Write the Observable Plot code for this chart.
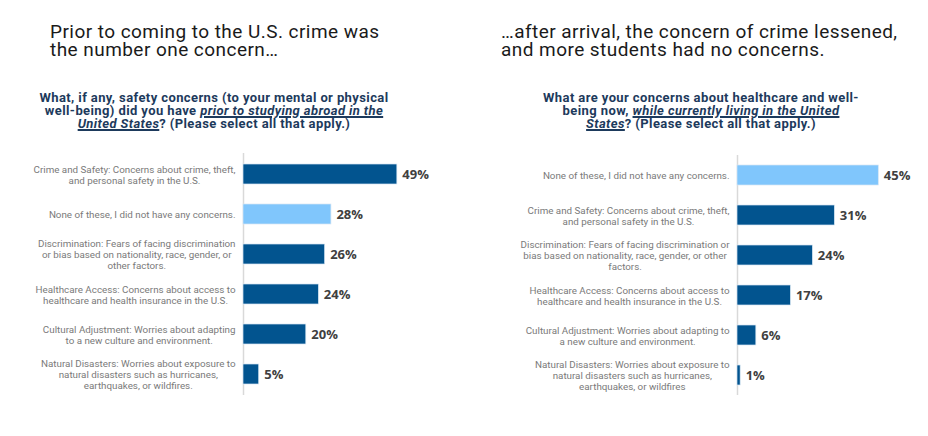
<!DOCTYPE html>
<html>
<head>
<meta charset="utf-8">
<script src="https://cdn.jsdelivr.net/npm/d3@7"></script>
<script src="https://cdn.jsdelivr.net/npm/@observablehq/plot@0.6"></script>
<style>
  html, body { margin: 0; padding: 0; background: #fff; }
  #wrap { position: relative; width: 928px; height: 436px; overflow: hidden; font-family: Roboto, "Open Sans", sans-serif; }
  .headline { position: absolute; height: 18px; font-size: 19px; line-height: 18px; letter-spacing: 0.45px; color: #1a1a1a; font-weight: 400; white-space: nowrap; }
  .sub { position: absolute; top: 91px; width: 420px; text-align: center; font-size: 13px; line-height: 13px; letter-spacing: 0.4px; font-weight: 700; color: #1d3a5c; white-space: nowrap; }
  .sub u { font-style: italic; text-decoration-thickness: 1.5px; text-underline-offset: 1px; }
  .chart { position: absolute; top: 140px; }
</style>
</head>
<body>
<div id="wrap">
  <div class="headline" style="left:50px; top:23px">Prior to coming to the U.S. crime was</div>
  <div class="headline" style="left:50px; top:41px">the number one concern…</div>
  <div class="headline" style="left:501px; top:23px">…after arrival, the concern of crime lessened,</div>
  <div class="headline" style="left:501px; top:41px">and more students had no concerns.</div>
  <div class="sub" style="left:4px">What, if any, safety concerns (to your mental or physical<br>well-being) did you have <u>prior to studying abroad in the<br>United States</u>? (Please select all that apply.)</div>
  <div class="sub" style="left:491px">What are your concerns about healthcare and well-<br>being now, <u>while currently living in the United<br>States</u>? (Please select all that apply.)</div>
  <div class="chart" id="left" style="left:0px"></div>
  <div class="chart" id="right" style="left:464px"></div>
</div>
<script>
// ---- data ----
const leftLabels = [
  "Crime and Safety: Concerns about crime, theft,\nand personal safety in the U.S.",
  "None of these, I did not have any concerns.",
  "Discrimination: Fears of facing discrimination\nor bias based on nationality, race, gender, or\nother factors.",
  "Healthcare Access: Concerns about access to\nhealthcare and health insurance in the U.S.",
  "Cultural Adjustment: Worries about adapting\nto a new culture and environment.",
  "Natural Disasters: Worries about exposure to\nnatural disasters such as hurricanes,\nearthquakes, or wildfires."
];
const leftValues = [49, 28, 26, 24, 20, 5];
const leftGroups = ["concern", "none", "concern", "concern", "concern", "concern"];

const rightLabels = [
  "None of these, I did not have any concerns.",
  "Crime and Safety: Concerns about crime, theft,\nand personal safety in the U.S.",
  "Discrimination: Fears of facing discrimination or\nbias based on nationality, race, gender, or other\nfactors.",
  "Healthcare Access: Concerns about access to\nhealthcare and health insurance in the U.S.",
  "Cultural Adjustment: Worries about adapting to\na new culture and environment.",
  "Natural Disasters: Worries about exposure to\nnatural disasters such as hurricanes,\nearthquakes, or wildfires"
];
const rightValues = [45, 31, 24, 17, 6, 1];
const rightGroups = ["none", "concern", "concern", "concern", "concern", "concern"];

// ---- drawing ----
const NAVY = "#02548f";
const LIGHT = "#80c6fc";
const LABEL_SIZE = 9.8;
const LABEL_FONT = LABEL_SIZE + "px Roboto";
const PX_PER_PCT = 3.14;

const canvas = document.createElement("canvas");
const ctx = canvas.getContext("2d");

function panel(labels, values, groups, axisX, marginTop) {
  ctx.font = LABEL_FONT;
  const gap = 8;
  const rows = labels.map((label, i) => {
    const w = d3.max(label.split("\n"), l => ctx.measureText(l).width);
    return {
      key: String(i),
      label,
      value: values[i],
      group: groups[i],
      lx: -(gap + w / 2) / PX_PER_PCT
    };
  });
  return Plot.plot({
    width: 464,
    height: 270,
    marginTop,
    marginBottom: 15,
    marginLeft: 0,
    marginRight: 0,
    style: { fontFamily: "Roboto, sans-serif", background: "transparent", overflow: "visible" },
    x: { domain: [0, 100], range: [axisX, axisX + 100 * PX_PER_PCT], axis: null },
    y: { domain: rows.map(d => d.key), paddingInner: 0.5, paddingOuter: 0.25, axis: null },
    color: { domain: ["concern", "none"], range: [NAVY, LIGHT] },
    marks: [
      Plot.ruleX([0], { stroke: "#d9d9d9", strokeWidth: 1.5 }),
      Plot.barX(rows, { x: "value", y: "key", fill: "group", stroke: "#d6e6f3", strokeWidth: 0.7 }),
      Plot.text(rows, {
        x: "value", y: "key", text: d => d.value + "%",
        textAnchor: "start", dx: 5, fill: "#404040",
        fontFamily: "'Open Sans', sans-serif", fontWeight: 700, fontSize: 13
      }),
      Plot.text(rows, {
        x: "lx", y: "key", text: "label",
        textAnchor: "middle", lineHeight: 1.12, fill: "#7a7a7a",
        fontFamily: "Roboto, sans-serif", fontSize: LABEL_SIZE
      })
    ]
  });
}

document.getElementById("left").append(panel(leftLabels, leftValues, leftGroups, 243, 13));
document.getElementById("right").append(panel(rightLabels, rightValues, rightGroups, 273, 15));
</script>
</body>
</html>
